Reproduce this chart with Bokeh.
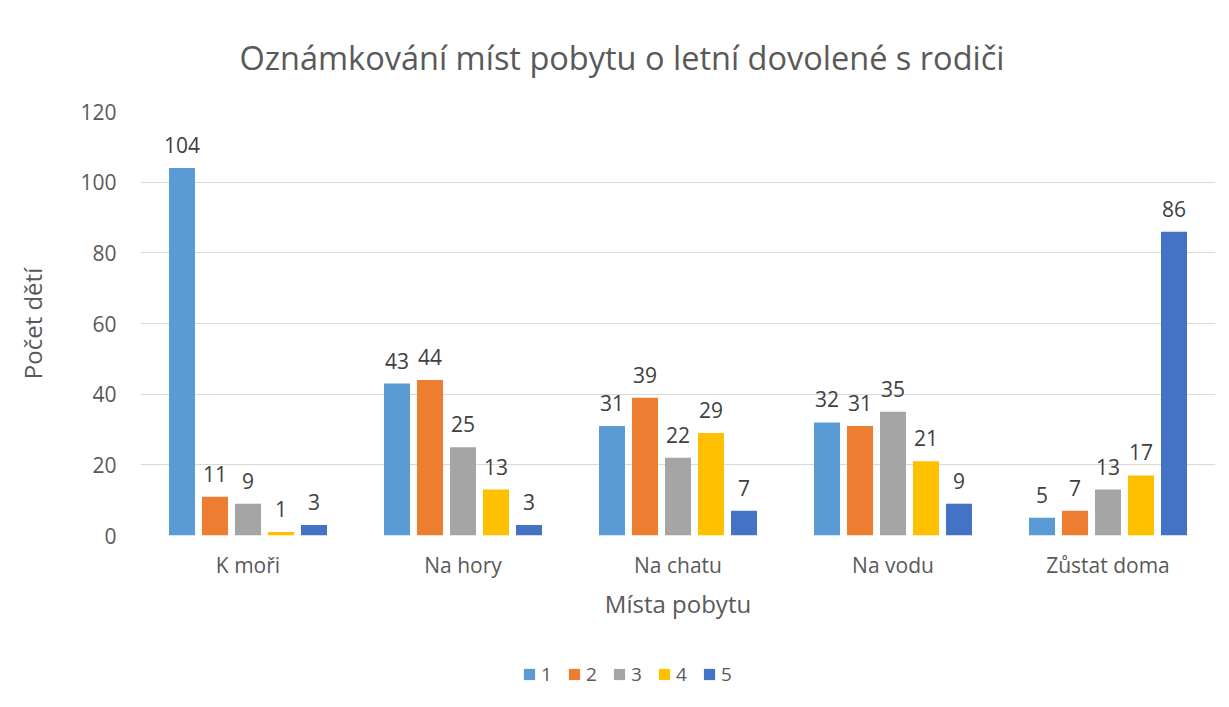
from bokeh.plotting import figure
from bokeh.layouts import column
from bokeh.models import ColumnDataSource, FactorRange, LabelSet, FixedTicker, Legend, LegendItem
from bokeh.core.properties import value
from bokeh.transform import dodge
from bokeh.embed import file_html
from bokeh.resources import INLINE

categories = ["K moři", "Na hory", "Na chatu", "Na vodu", "Zůstat doma"]
series_names = ["1", "2", "3", "4", "5"]
s1 = [104, 43, 31, 32, 5]
s2 = [11, 44, 39, 31, 7]
s3 = [9, 25, 22, 35, 13]
s4 = [1, 13, 29, 21, 17]
s5 = [3, 3, 7, 9, 86]
y_ticks = [0, 20, 40, 60, 80, 100, 120]

series = [s1, s2, s3, s4, s5]
colors = ["#5B9BD5", "#ED7D31", "#A5A5A5", "#FFC000", "#4472C4"]
FONT = "Open Sans"

p = figure(x_range=FactorRange(*categories, range_padding=0), y_range=(0, 120),
           width=1221, height=639, output_backend="svg", toolbar_location=None,
           min_border_left=140, min_border_right=6, min_border_top=110, min_border_bottom=104,
           title="Oznámkování míst pobytu o letní dovolené s rodiči")
p.outline_line_color = None
p.background_fill_color = "white"
p.border_fill_color = "white"

p.title.align = "left"
p.title.offset = 99
p.title.text_font = FONT
p.title.text_font_size = "32.5px"
p.title.text_font_style = "normal"
p.title.text_color = "#595959"
p.title.standoff = 64

step = 0.1535
bw = 0.121
for i, (vals, col, name) in enumerate(zip(series, colors, series_names)):
    src = ColumnDataSource(dict(cat=categories, val=vals, lab=[str(v) for v in vals]))
    off = (i - 2) * step
    p.vbar(x=dodge("cat", off, range=p.x_range), top="val", width=bw, source=src,
           fill_color=col, line_color=None)
    ls = LabelSet(x=dodge("cat", off, range=p.x_range), y="val", text="lab", source=src,
                  text_align="center", text_baseline="bottom", y_offset=15,
                  text_font=value(FONT), text_font_size=value("21px"), text_color="#404040")
    p.add_layout(ls)

p.yaxis.ticker = FixedTicker(ticks=y_ticks)
for ax in (p.xaxis, p.yaxis):
    ax.axis_line_color = None
    ax.major_tick_line_color = None
    ax.minor_tick_line_color = None
    ax.major_label_text_font = FONT
    ax.major_label_text_font_size = "21px"
    ax.major_label_text_color = "#595959"
    ax.axis_label_text_font = FONT
    ax.axis_label_text_font_size = "24px"
    ax.axis_label_text_color = "#595959"
    ax.axis_label_text_font_style = "normal"

p.yaxis.axis_label = "Počet dětí"
p.xaxis.axis_label = "Místa pobytu"
p.yaxis.major_label_standoff = 18
p.yaxis.axis_label_standoff = 28
p.xaxis.major_label_standoff = 9
p.xaxis.axis_label_standoff = 5

p.xgrid.grid_line_color = None
p.ygrid.grid_line_color = "#D9D9D9"
p.ygrid.grid_line_width = 1

# legend strip below the chart (its zero-width bars lie outside the view; only the legend shows)
pl = figure(width=1221, height=60, output_backend="svg", toolbar_location=None,
            x_axis_type=None, y_axis_type=None,
            x_range=FactorRange(*categories, range_padding=0), y_range=(-1000, -999),
            min_border_left=0, min_border_right=0, min_border_top=0, min_border_bottom=0)
pl.outline_line_color = None
pl.xgrid.grid_line_color = None
pl.ygrid.grid_line_color = None
items = []
for i, (vals, col, name) in enumerate(zip(series, colors, series_names)):
    src = ColumnDataSource(dict(cat=categories, val=vals))
    r = pl.vbar(x=dodge("cat", (i - 2) * step, range=pl.x_range), top="val", width=0,
                source=src, fill_color=col, line_color=None)
    items.append(LegendItem(label=name, renderers=[r]))
legend = Legend(items=items, orientation="horizontal", location=(382, 12),
                glyph_width=14, glyph_height=14, label_standoff=5, spacing=15, label_width=11,
                label_text_font=FONT, label_text_font_size="19px", label_text_color="#595959",
                border_line_color=None, background_fill_alpha=0, padding=0, margin=0)
pl.add_layout(legend)

layout = column(p, pl, spacing=0)
open("out.html", "w").write(file_html(layout, INLINE))
